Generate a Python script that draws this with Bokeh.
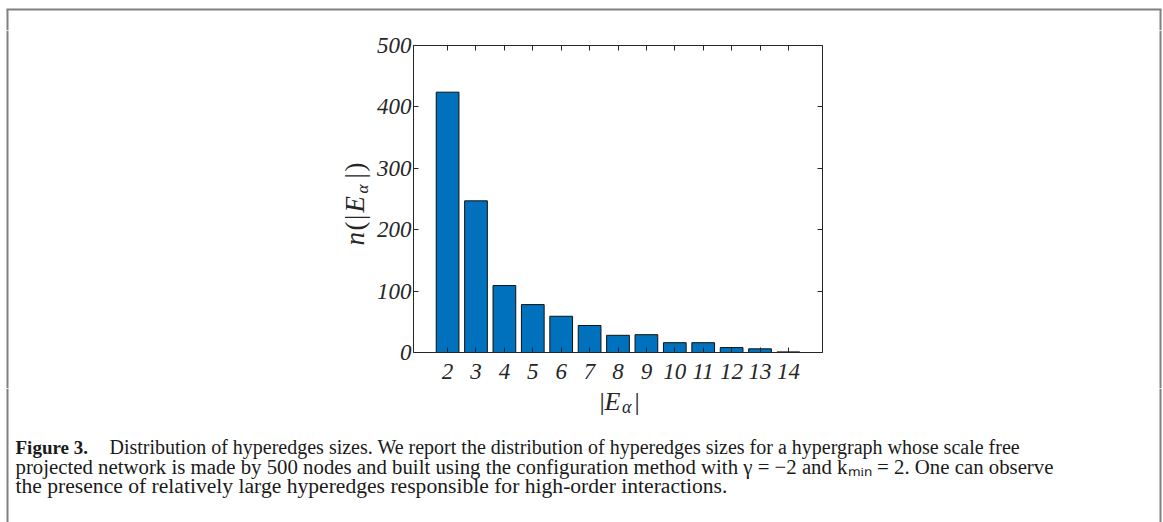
import math
from bokeh.plotting import figure
from bokeh.models import LinearAxis, FixedTicker, Range1d
from bokeh.layouts import column, row
from bokeh.core.properties import value
from bokeh.embed import file_html
from bokeh.resources import INLINE

# ---- data ----
sizes = [2, 3, 4, 5, 6, 7, 8, 9, 10, 11, 12, 13, 14]
counts = [424, 247, 109, 78, 59, 44, 28, 29, 16, 16, 8, 6, 1]
x_ticks = [2, 3, 4, 5, 6, 7, 8, 9, 10, 11, 12, 13, 14]
y_ticks = [0, 100, 200, 300, 400, 500]
caption_bold = "Figure 3."
caption_l1 = "Distribution of hyperedges sizes. We report the distribution of hyperedges sizes for a hypergraph whose scale free"
caption_l2 = "projected network is made by 500 nodes and built using the configuration method with \u03b3 = \u22122 and k\u2098\u1d62\u2099 = 2. One can observe"
caption_l3 = "the presence of relatively large hyperedges responsible for high-order interactions."

# ---- layout (page pixel coords) ----
PW, PH = 1163, 522
TOP_H = 30            # top strip
CX0, CX1 = 373, 860   # chart figure horizontal extent
FL, FT, FR, FB = 413, 45, 822, 352   # chart frame
MB = 36               # chart bottom border
MID_H = (FB - TOP_H) + MB
AX = "#262626"
TXT = "#1a1a1a"
BORDER = "#808080"
SERIF = "Liberation Serif"
BL, BR, BT = 7, 1160, 9   # outer border lines


def panel(x0, y0, w, h):
    f = figure(width=w, height=h, output_backend="svg", toolbar_location=None,
               x_range=Range1d(x0, x0 + w), y_range=Range1d(-(y0 + h), -y0),
               x_axis_location=None, y_axis_location=None,
               min_border=0, min_border_left=0, min_border_right=0,
               min_border_top=0, min_border_bottom=0)
    f.frame_align = False
    f.grid.visible = False
    f.outline_line_color = None
    f.background_fill_color = "white"
    f.border_fill_color = "white"
    return f


def txt(f, X, Y, s, size, style="normal", align="left", angle=0.0, color=TXT):
    f.text(x=[X], y=[-Y], text=[s], text_font=value(SERIF), text_font_size=value(f"{size}px"),
           text_font_style=value(style), text_align=value(align), text_baseline=value("middle"),
           angle=angle, text_color=color)


def vline(f, X, Y0, Y1):
    f.segment(x0=[X], y0=[-Y0], x1=[X], y1=[-Y1], line_color=BORDER, line_width=2)


# top strip
top = panel(0, 0, PW, TOP_H)
top.segment(x0=[BL - 1], y0=[-BT], x1=[BR + 1], y1=[-BT], line_color=BORDER, line_width=2)
vline(top, BL, BT, TOP_H)
vline(top, BR, BT, TOP_H)

# left strip with y label (rotated, reads bottom-to-top)
left = panel(0, TOP_H, CX0, MID_H)
vline(left, BL, TOP_H, TOP_H + MID_H)
A = math.pi / 2
YLX = 354
txt(left, YLX, 245, "n", 27, "italic", angle=A, color=AX)
txt(left, YLX, 230, "(", 27, angle=A, color=AX)
txt(left, YLX, 219.5, "|", 27, angle=A, color=AX)
txt(left, YLX, 212, "E", 27, "italic", angle=A, color=AX)
txt(left, YLX + 7.5, 193, "\u03b1", 17, "italic", angle=A, color=AX)
txt(left, YLX, 178, "|", 27, angle=A, color=AX)
txt(left, YLX, 171, ")", 27, angle=A, color=AX)

# right strip
right = panel(CX1, TOP_H, PW - CX1, MID_H)
vline(right, BR, TOP_H, TOP_H + MID_H)

# chart
p = figure(frame_width=FR - FL, frame_height=FB - FT, output_backend="svg", toolbar_location=None,
           x_range=Range1d(0.8, 15.2), y_range=Range1d(0, 500),
           min_border_left=FL - CX0, min_border_right=CX1 - FR,
           min_border_top=FT - TOP_H, min_border_bottom=MB)
p.frame_align = False
p.grid.visible = False
p.outline_line_color = None
p.background_fill_color = "white"
p.border_fill_color = "white"

p.vbar(x=sizes, top=counts, width=0.8, bottom=0,
       fill_color="#0072BD", line_color="#111111", line_width=1)


def style_axis(ax, show_labels=True):
    ax.axis_line_color = AX
    ax.axis_line_width = 1
    ax.major_tick_line_color = AX
    ax.major_tick_in = 5
    ax.major_tick_out = 0
    ax.minor_tick_line_color = None
    ax.major_label_text_font = SERIF
    ax.major_label_text_font_style = "italic"
    ax.major_label_text_font_size = "23px"
    ax.major_label_text_color = AX if show_labels else None


p.xaxis.ticker = FixedTicker(ticks=x_ticks)
p.yaxis.ticker = FixedTicker(ticks=y_ticks)
style_axis(p.xaxis[0])
style_axis(p.yaxis[0])
p.xaxis.major_label_standoff = 11
p.yaxis.major_label_standoff = 2

top_ax = LinearAxis(ticker=FixedTicker(ticks=x_ticks))
right_ax = LinearAxis(ticker=FixedTicker(ticks=y_ticks))
style_axis(top_ax, False)
style_axis(right_ax, False)
top_ax.major_label_standoff = 0
right_ax.major_label_standoff = 0
p.add_layout(top_ax, "above")
p.add_layout(right_ax, "right")

# bottom block: x label + caption
BY0 = TOP_H + MID_H
bot = panel(0, BY0, PW, PH - BY0)
vline(bot, BL, BY0, PH)
vline(bot, BR, BY0, PH)
txt(bot, 599, 400.5, "|", 26, color=AX)
txt(bot, 604, 400.5, "E", 26, "italic", color=AX)
txt(bot, 621.5, 406, "\u03b1", 18, "italic", color=AX)
txt(bot, 634, 400.5, "|", 26, color=AX)

txt(bot, 15, 446.5, caption_bold, 19, "bold")
txt(bot, 109, 446.5, caption_l1, 20)
txt(bot, 15, 466, caption_l2, 20.8)
txt(bot, 15, 485.5, caption_l3, 21.6)

layout = column(top, row(left, p, right, spacing=0), bot, spacing=0)
open("out.html", "w").write(file_html(layout, INLINE))
